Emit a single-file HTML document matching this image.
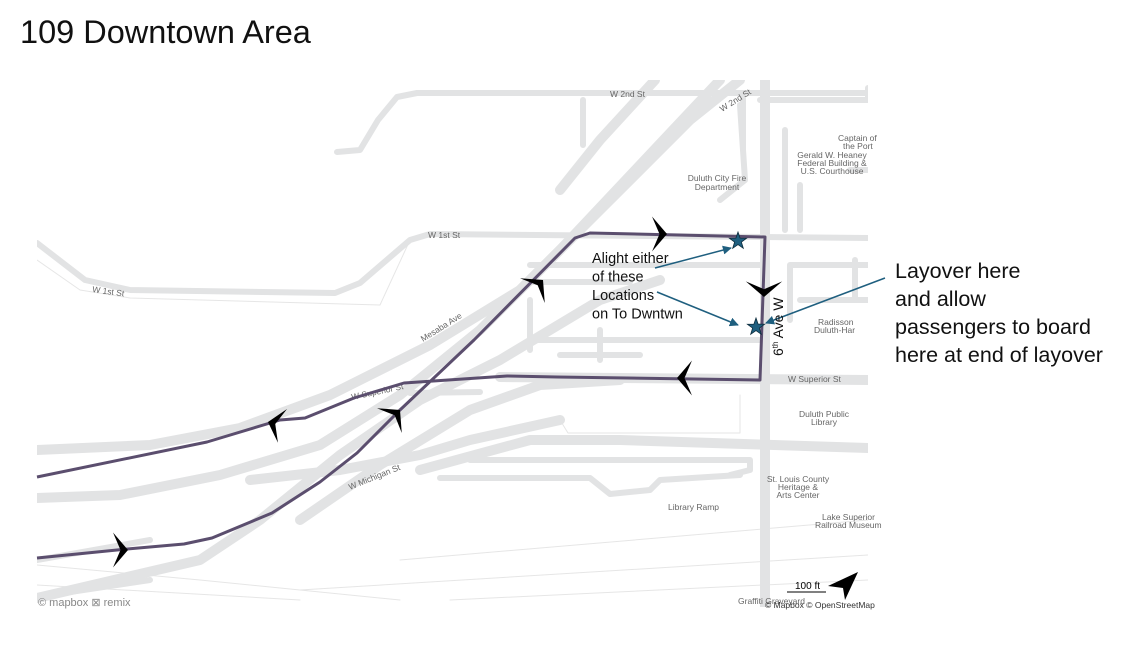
<!DOCTYPE html>
<html><head><meta charset="utf-8"><style>
html,body{margin:0;padding:0;background:#fff;width:1140px;height:669px;overflow:hidden;font-family:"Liberation Sans",sans-serif}
.t{position:absolute;left:20px;top:14px;font-size:32.5px;color:#111}
.lay{position:absolute;left:895px;top:257px;font-size:21.5px;line-height:28px;color:#111}
</style></head><body>
<div class="t">109 Downtown Area</div>
<svg width="1140" height="669" style="position:absolute;left:0;top:0">
<defs><clipPath id="c"><rect x="37" y="80" width="831" height="527"/></clipPath>
<marker id="ah" viewBox="0 0 10 10" refX="9" refY="5" markerWidth="6" markerHeight="6" orient="auto"><path d="M0,0L10,5L0,10z" fill="#1f5f7f"/></marker></defs>
<g clip-path="url(#c)" fill="none" stroke="#e2e3e4" stroke-linecap="round" stroke-linejoin="round">
<g stroke-width="1" stroke="#e6e6e6">
<path d="M37,260 L80,290 L130,298 L380,305 L410,240"/>
<path d="M37,565 L200,580 L400,600 M37,585 L300,600 M400,560 L868,520 M300,590 L868,555 M450,600 L868,580"/>
<path d="M560,420 L568,433 L740,433 L740,395"/>
</g>
<g stroke-width="6">
<path d="M37,243 L85,280 L130,290 L335,293 L360,283 L410,240 L430,234 L868,238"/>
<path d="M337,152 L360,150 L378,120 L397,97 L417,93 L868,93"/>
<path d="M560,93 L868,93 M583,100 L583,145 M743,98 L743,150 M760,100 L868,100 L868,88"/>
<path d="M740,105 L745,180 L720,200"/>
<path d="M785,130 L785,230 M800,185 L800,230 M850,170 L868,170"/>
<path d="M530,265 L760,265 M530,282 L630,282 M530,300 L530,350 M600,330 L600,360 M530,340 L760,340"/>
<path d="M790,265 L868,265 M790,265 L790,320 M855,260 L855,300 M800,300 L868,300"/>
<path d="M480,392 L410,393 M37,560 L150,540"/>
<path d="M470,460 L750,460 L750,470 L730,475 L740,475 L660,480 L650,490 L610,494 L590,478 L440,478"/>
<path d="M560,355 L640,355"/>
<path d="M37,597 L150,580"/>
</g>
<g stroke-width="10">
<path d="M37,450 L150,445 L240,428 L330,395 L430,345 L520,290 L600,210 L690,120 L740,80"/>
<path d="M37,498 L120,495 L220,475 L320,445 L400,395 L480,330 L560,250 L640,165 L720,80"/>
<path d="M250,480 L340,470 L420,455 L470,440 L560,420"/>
<path d="M300,520 L380,465 L470,410 L540,385 L620,380"/>
<path d="M420,470 L530,440 L620,440 L868,448"/>
<path d="M37,598 L200,560 L260,520 L340,455 L420,400 L500,360 L600,300 L660,280"/>
<path d="M500,377 L868,380"/>
<path d="M765,80 L765,607"/>
<path d="M655,80 L600,140 L560,190"/>
</g>
</g>
<g font-size="8.5" fill="#666" font-family="Liberation Sans,sans-serif">
<text x="610" y="97">W 2nd St</text>
<text x="722" y="112" transform="rotate(-32 722 112)">W 2nd St</text>
<text x="428" y="238">W 1st St</text>
<text x="92" y="292" transform="rotate(8 92 292)">W 1st St</text>
<text x="423" y="342" transform="rotate(-32 423 342)">Mesaba Ave</text>
<text x="352" y="400" transform="rotate(-12 352 400)">W Superior St</text>
<text x="350" y="490" transform="rotate(-22 350 490)">W Michigan St</text>
<text x="788" y="382">W Superior St</text>
<text x="717" y="181" text-anchor="middle">Duluth City Fire</text><text x="717" y="190" text-anchor="middle">Department</text>
<text x="838" y="141">Captain of</text><text x="843" y="149">the Port</text>
<text x="832" y="158" text-anchor="middle">Gerald W. Heaney</text><text x="832" y="166" text-anchor="middle">Federal Building &amp;</text><text x="832" y="174" text-anchor="middle">U.S. Courthouse</text>
<text x="818" y="325">Radisson</text><text x="814" y="333">Duluth-Har</text>
<text x="824" y="417" text-anchor="middle">Duluth Public</text><text x="824" y="425" text-anchor="middle">Library</text>
<text x="798" y="482" text-anchor="middle">St. Louis County</text><text x="798" y="490" text-anchor="middle">Heritage &amp;</text><text x="798" y="498" text-anchor="middle">Arts Center</text>
<text x="668" y="510">Library Ramp</text>
<text x="822" y="520">Lake Superior</text><text x="815" y="528">Railroad Museum</text>
<text x="738" y="604">Graffiti Graveyard</text>
<text x="765" y="608" fill="#333">© Mapbox © OpenStreetMap</text>
<text x="38" y="606" font-size="11" fill="#888">© mapbox ⊠ remix</text>
</g>
<g fill="none" stroke="#5b4e6e" stroke-width="3" stroke-linejoin="round">
<path d="M37,558 L127,549 L184,544 L212,538 L272,513 L320,482 L357,453 L400,410 L474,340 L575,238 L590,233 L765,237 L760,380 L557,377 L507,376 L404,383 L354,398 L305,418 L280,420 L207,442 L37,477"/>
</g>
<g fill="#000">
<path d="M0,0 L-12,-14 L-6,0 L-12,14 Z" transform="translate(128,550) scale(1.25)"/>
<path d="M0,0 L-12,-14 L-6,0 L-12,14 Z" transform="translate(400,410) rotate(-45) scale(1.25)"/>
<path d="M0,0 L-12,-14 L-6,0 L-12,14 Z" transform="translate(543,280) rotate(-45) scale(1.25)"/>
<path d="M0,0 L-12,-14 L-6,0 L-12,14 Z" transform="translate(667,234) scale(1.25)"/>
<path d="M0,0 L-12,-14 L-6,0 L-12,14 Z" transform="translate(764,297) rotate(90) scale(1.3)"/>
<path d="M0,0 L-12,-14 L-6,0 L-12,14 Z" transform="translate(677,378) rotate(180) scale(1.25)"/>
<path d="M0,0 L-12,-14 L-6,0 L-12,14 Z" transform="translate(268,422) rotate(195) scale(1.25)"/>
<path d="M858,572 L828,586 L843,588 L845,600 Z"/>
</g>
<line x1="787" y1="592" x2="826" y2="592" stroke="#000" stroke-width="1"/>
<text x="795" y="589" font-size="10" font-family="Liberation Sans,sans-serif">100 ft</text>
<g stroke="#1f5f7f" stroke-width="1.5" fill="none">
<line x1="655" y1="268" x2="731" y2="248" marker-end="url(#ah)"/>
<line x1="657" y1="292" x2="738" y2="325" marker-end="url(#ah)"/>
<line x1="885" y1="278" x2="766" y2="323" marker-end="url(#ah)"/>
</g>
<g fill="#1f5f7f" stroke="#0d2c3c" stroke-width="0.8">
<polygon transform="translate(738,241)" points="0,-9 2.1,-2.9 8.6,-2.8 3.4,1.1 5.3,7.3 0,3.6 -5.3,7.3 -3.4,1.1 -8.6,-2.8 -2.1,-2.9"/>
<polygon transform="translate(756,327)" points="0,-9 2.1,-2.9 8.6,-2.8 3.4,1.1 5.3,7.3 0,3.6 -5.3,7.3 -3.4,1.1 -8.6,-2.8 -2.1,-2.9"/>
</g>
<g font-size="14.5" font-family="Liberation Sans,sans-serif" fill="#111">
<text x="592" y="263">Alight either</text>
<text x="592" y="281.5">of these</text>
<text x="592" y="300">Locations</text>
<text x="592" y="318.5">on To Dwntwn</text>
<text transform="translate(783,356) rotate(-90)" font-size="14">6<tspan font-size="8" dy="-5">th</tspan><tspan dy="5"> Ave W</tspan></text>
</g>
</svg>
<div class="lay">Layover here<br>and allow<br>passengers to board<br>here at end of layover</div>
</body></html>
